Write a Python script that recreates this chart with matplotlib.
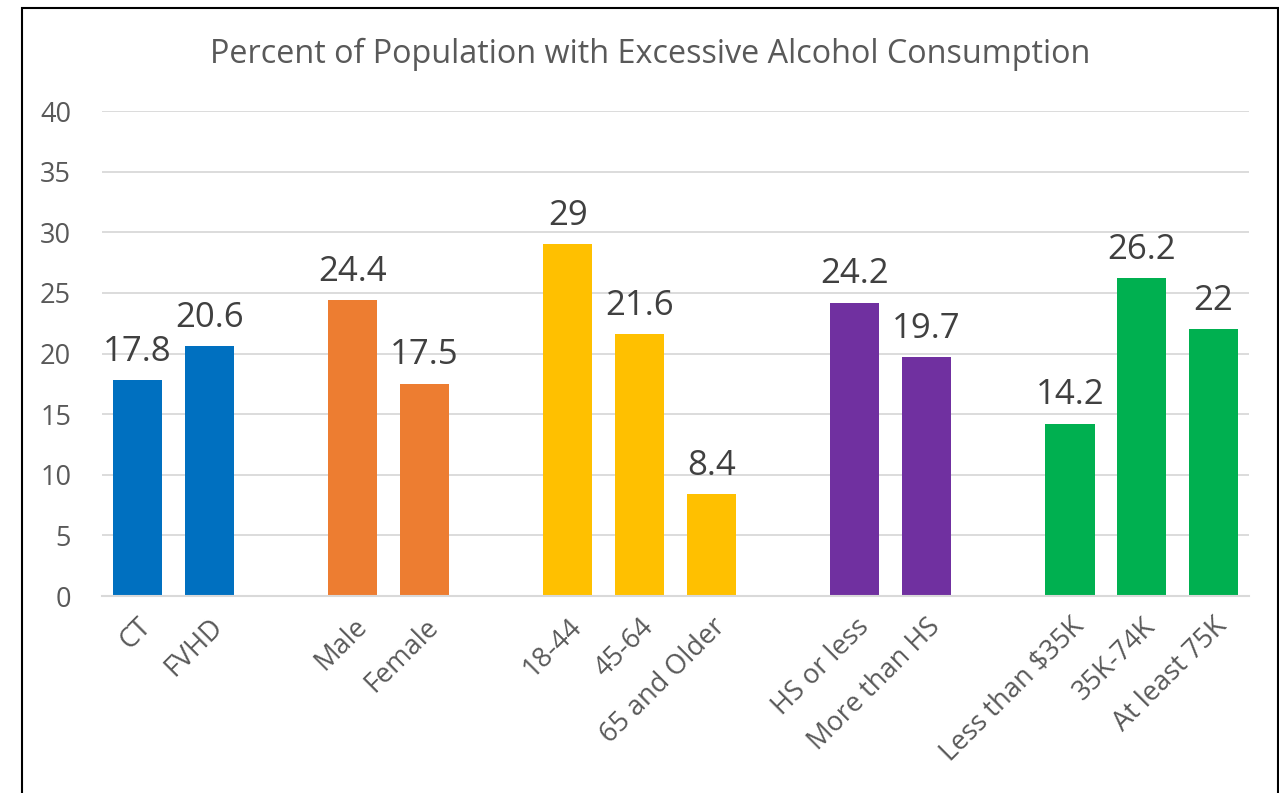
import matplotlib.pyplot as plt
from matplotlib.patches import Rectangle

plt.rcParams['font.family'] = ['Open Sans', 'DejaVu Sans']

labels = ['CT', 'FVHD', '', 'Male', 'Female', '', '18-44', '45-64', '65 and Older', '',
          'HS or less', 'More than HS', '', 'Less than $35K', '35K-74K', 'At least 75K']
values = [17.8, 20.6, None, 24.4, 17.5, None, 29, 21.6, 8.4, None,
          24.2, 19.7, None, 14.2, 26.2, 22]
value_text = ['17.8', '20.6', '', '24.4', '17.5', '', '29', '21.6', '8.4', '',
              '24.2', '19.7', '', '14.2', '26.2', '22']
colors = ['#0070C0', '#0070C0', None, '#ED7D31', '#ED7D31', None,
          '#FFC000', '#FFC000', '#FFC000', None, '#7030A0', '#7030A0', None,
          '#00B050', '#00B050', '#00B050']

txt = '#595959'
fig = plt.figure(figsize=(12.79, 7.93), dpi=100)
ax = fig.add_axes([0.0795, 0.2484, 0.8973, 0.6116])

for i, v in enumerate(values):
    if v is None:
        continue
    ax.bar(i, v, width=0.684, color=colors[i], zorder=3)
    ax.annotate(value_text[i], (i, v), xytext=(0, 14), textcoords='offset points',
                ha='center', va='baseline', fontsize=25, color='#404040')

ax.set_xlim(-0.5, len(values) - 0.5)
ax.set_ylim(0, 40)
ax.set_yticks(range(0, 41, 5))
ax.set_xticks(range(len(labels)))
ax.set_xticklabels(labels, rotation=45, ha='right', rotation_mode='anchor', fontsize=19.5, color=txt)
ax.tick_params(axis='both', length=0)
ax.tick_params(axis='x', pad=12)
ax.tick_params(axis='y', pad=22, labelsize=19.5, labelcolor=txt)
ax.grid(axis='y', color='#D9D9D9', linewidth=1.3, zorder=0)
for s in ['top', 'right', 'left']:
    ax.spines[s].set_visible(False)
ax.spines['bottom'].set_color('#D9D9D9')
ax.spines['bottom'].set_linewidth(1.5)
ax.spines['bottom'].set_zorder(4)

fig.text(0.5086, 1 - 54 / 793, 'Percent of Population with Excessive Alcohol Consumption',
         ha='center', va='center', fontsize=23.3, color=txt)

fig.patches.append(Rectangle((22 / 1279, -0.02), 1256 / 1279, 1.02 - 8 / 793,
                             transform=fig.transFigure, fill=False,
                             edgecolor='black', linewidth=1.5))

fig.savefig('out.png', dpi=100)
